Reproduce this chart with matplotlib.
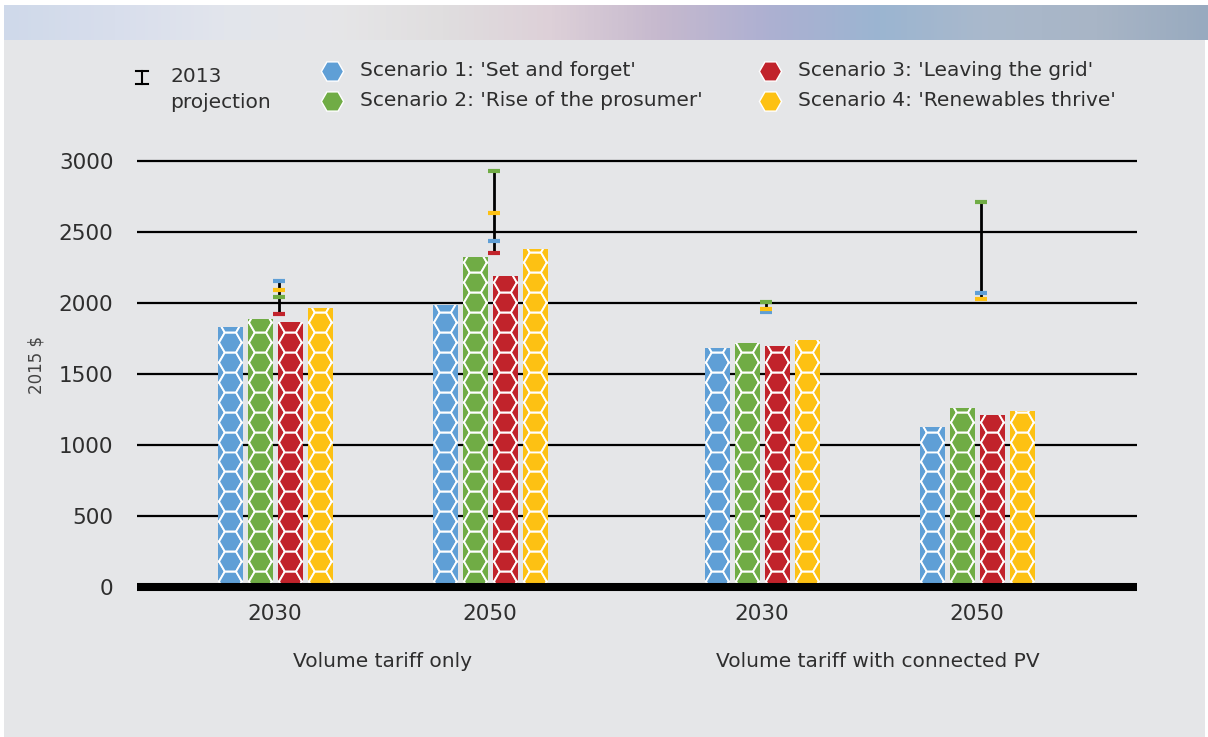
import numpy as np
import matplotlib
matplotlib.use('Agg')
import matplotlib.pyplot as plt
from matplotlib.lines import Line2D
from matplotlib.patches import Rectangle
from matplotlib.transforms import blended_transform_factory

# data
scenarios = ["Scenario 1: 'Set and forget'", "Scenario 2: 'Rise of the prosumer'",
             "Scenario 3: 'Leaving the grid'", "Scenario 4: 'Renewables thrive'"]
colors = ['#5F9FD6', '#70AC45', '#C1232B', '#FDC113']
years = ['2030', '2050', '2030', '2050']
groups = ['Volume tariff only', 'Volume tariff with connected PV']

vol_2030 = [1830, 1887, 1865, 1964]
vol_2050 = [1985, 2325, 2190, 2380]
pv_2030 = [1680, 1715, 1699, 1739]
pv_2050 = [1126, 1260, 1211, 1239]

proj_vol_2030 = [2157, 2044, 1924, 2094]
proj_vol_2050 = [2439, 2929, 2351, 2636]
proj_pv_2030 = [1938, 2006, np.nan, 1959]
proj_pv_2050 = [2072, 2713, np.nan, 2025]

bars_by_year = [vol_2030, vol_2050, pv_2030, pv_2050]
proj_by_year = [proj_vol_2030, proj_vol_2050, proj_pv_2030, proj_pv_2050]

BG = '#E5E6E8'
TXT = '#2E2E2E'
DPI = 100

fig = plt.figure(figsize=(12.08, 7.37), dpi=DPI)
fig.patch.set_facecolor('white')

# grey panel + banner
panel = fig.add_axes([4 / 1208, 0, 1201 / 1208, 697 / 737])
panel.axis('off')
panel.add_patch(Rectangle((0, 0), 1, 1, color=BG, transform=panel.transAxes))

banner = fig.add_axes([4 / 1208, 697 / 737, 1204 / 1208, 35 / 737])
banner.axis('off')
stops = ['#CFD9EA', '#D8DEEC', '#E2E5EC', '#E6E6E8', '#E0DEDF', '#DDD0D8',
         '#C6B9CE', '#ADB0D2', '#9BB5D1', '#AAB9CC', '#A8B5C6', '#98AABF']
rgb = np.array([matplotlib.colors.to_rgb(c) for c in stops])
xs = np.linspace(0, 1, 400)
grad = np.stack([np.interp(xs, np.linspace(0, 1, len(stops)), rgb[:, k]) for k in range(3)], axis=-1)
banner.imshow(grad[None, :, :], aspect='auto', extent=[0, 1, 0, 1])
banner.set_xlim(0, 1)
banner.set_ylim(0, 1)

# main axes
ax = fig.add_axes([137 / 1208, 150 / 737, 1000 / 1208, 426 / 737])
ax.set_facecolor('none')
for s in ax.spines.values():
    s.set_visible(False)

centers = np.array([0, 1, 2.265, 3.265])
bw = 0.112
step = 0.1395
ax.set_xlim(-0.642, 4.009)
ax.set_ylim(0, 3000)

yticks = [0, 500, 1000, 1500, 2000, 2500, 3000]
ax.set_yticks(yticks)
ax.set_yticklabels([str(t) for t in yticks], fontsize=15.5, color=TXT)
ax.tick_params(axis='y', length=0, pad=17)
ax.set_xticks(centers)
ax.set_xticklabels(years, fontsize=15.5, color=TXT)
ax.tick_params(axis='x', length=0, pad=12)

for t in yticks[1:]:
    ax.axhline(t, color='black', lw=1.6, zorder=1, clip_on=False, solid_capstyle='butt')
ax.axhline(0, color='black', lw=5.8, zorder=5, clip_on=False, solid_capstyle='butt')

# hexagon honeycomb texture (flat-top cells, one column centred in each bar)
R = 11.5  # px, circumradius
r_pt = R * 72 / DPI
hs = (2 * r_pt) ** 2
inv = ax.transData.inverted()
h = np.sqrt(3) * R


def hex_fill(rect, color):
    (x0, y0), (x1, y1) = ax.transData.transform([(rect.get_x(), 0),
                                                   (rect.get_x() + rect.get_width(), rect.get_height())])
    cx = (x0 + x1) / 2
    pts = []
    for k in (-1, 0, 1):
        x = cx + k * 1.5 * R
        y = y0 + 6 - (h / 2 if k else 0)
        while y < y1 + R:
            pts.append((x, y))
            y += h
    d = inv.transform(np.array(pts))
    sc = ax.scatter(d[:, 0], d[:, 1], marker='H', s=hs, c=color,
                    edgecolors='white', linewidths=1.4, zorder=3)
    sc.set_clip_path(rect)


for gi, vals in enumerate(bars_by_year):
    for si, v in enumerate(vals):
        xpos = centers[gi] + (si - 1.5) * step
        b = ax.bar(xpos, v, width=bw, color=colors[si], zorder=2, linewidth=0)[0]
        hex_fill(b, colors[si])

# 2013 projection markers
for gi, proj in enumerate(proj_by_year):
    p = np.array(proj, dtype=float)
    lo, hi = np.nanmin(p), np.nanmax(p)
    x = centers[gi] + 0.02
    ax.vlines(x, lo, hi, color='black', lw=2, zorder=6)
    ax.plot([x, x], [lo, hi], ls='none', marker='_', ms=9, mew=1.6, color='black', zorder=6)
    for si, v in enumerate(p):
        if not np.isnan(v):
            ax.plot(x, v, marker='_', ms=8, mew=3, color=colors[si], zorder=7)

# group labels
tr = blended_transform_factory(ax.transData, ax.transAxes)
ax.text((centers[0] + centers[1]) / 2, -0.176, groups[0], transform=tr,
        ha='center', va='center', fontsize=14.5, color=TXT)
ax.text((centers[2] + centers[3]) / 2 + 0.04, -0.176, groups[1], transform=tr,
        ha='center', va='center', fontsize=14.5, color=TXT)

fig.text(36 / 1208, 1 - 365 / 737, '2015 $', rotation=90, ha='center', va='center',
         fontsize=12, color='#444444')

# legend
def fx(px):
    return px / 1208


def fy(py):
    return 1 - py / 737


ix = fx(142)
fig.add_artist(Line2D([ix, ix], [fy(71), fy(84)], color='black', lw=1.5))
fig.add_artist(Line2D([ix - fx(6), ix + fx(6)], [fy(71), fy(71)], color='black', lw=1.5))
fig.add_artist(Line2D([ix - fx(6), ix + fx(6)], [fy(84), fy(84)], color='black', lw=1.5))
fig.text(fx(170), fy(77), '2013', fontsize=14.5, color=TXT, va='center')
fig.text(fx(170), fy(103), 'projection', fontsize=14.5, color=TXT, va='center')

leg_pos = [(332, 71), (332, 101), (770, 71), (770, 101)]
for si, (lx, ly) in enumerate(leg_pos):
    fig.add_artist(Line2D([fx(lx)], [fy(ly)], marker='H', ms=16, mfc=colors[si],
                          mec='white', mew=1, ls='none'))
    fig.text(fx(lx + 28), fy(ly), scenarios[si], fontsize=14.5, color=TXT, va='center')

fig.savefig('out.png', dpi=DPI, facecolor=fig.get_facecolor())
